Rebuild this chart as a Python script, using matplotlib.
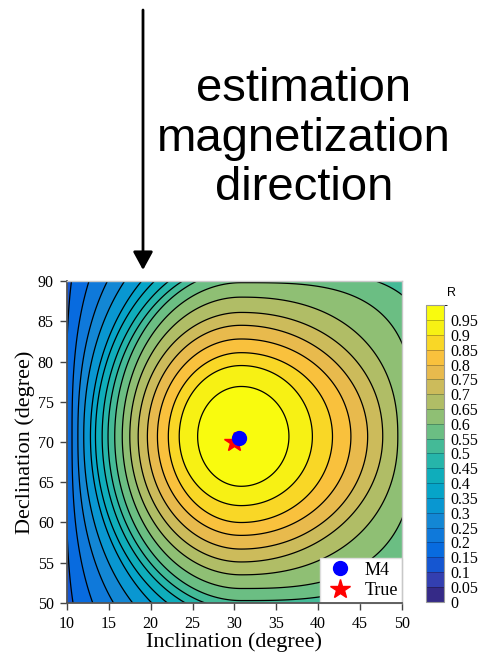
import numpy as np
import matplotlib
matplotlib.use('Agg')
import matplotlib.pyplot as plt
from matplotlib.colors import LinearSegmentedColormap, ListedColormap, BoundaryNorm
from matplotlib.cm import ScalarMappable
from matplotlib.patches import Polygon, FancyArrowPatch

# peak of the correlation map (inclination, declination)
peak = (30.8, 70.7)

# contour levels of R and where each one crosses the row / column through the peak
levels_in = [0.05, 0.10, 0.15, 0.20, 0.25, 0.30, 0.35, 0.40, 0.45, 0.50,
             0.55, 0.60, 0.65, 0.70, 0.75, 0.80, 0.85, 0.90, 0.95]
left_x = [8.5, 9.2, 9.9, 10.6, 11.3, 12.0, 12.8, 13.4, 14.2, 14.9,
          15.7, 16.6, 17.5, 18.5, 19.6, 20.8, 22.1, 23.4, 25.6]
right_x = [79.0, 76.5, 74.0, 71.5, 69.0, 66.5, 64.0, 61.5, 59.0, 56.5,
           54.0, 51.4, 49.5, 47.7, 45.9, 43.9, 41.7, 39.3, 36.5]
top_y = [113.7, 110.7, 107.7, 104.1, 100.5, 98.4, 96.4, 94.7, 93.3, 92.2,
         91.3, 89.8, 88.0, 86.1, 84.5, 82.8, 81.1, 79.5, 76.9]
bottom_y = [27.7, 30.7, 33.7, 37.3, 40.9, 43.0, 45.0, 46.7, 48.1, 49.2,
            50.3, 51.8, 53.5, 55.1, 56.7, 58.4, 60.0, 62.1, 64.5]

# squareness of each ring per quadrant (2 = plain ellipse)
sq_left = [4.0, 4.0, 3.5, 2.6, 2.3, 2.1, 2.0, 2.0, 2.0, 2.0,
           2.0, 2.0, 2.0, 2.0, 2.0, 2.0, 2.0, 2.0, 2.0]
sq_top_right = [4.0, 4.0, 4.0, 4.0, 4.0, 4.0, 4.0, 4.0, 4.0, 4.0,
                4.0, 3.2, 2.3, 2.1, 2.0, 2.0, 2.0, 2.0, 2.0]
sq_bot_right = [3.0, 3.0, 3.0, 3.0, 3.0, 3.0, 3.0, 3.0, 3.0, 3.0,
                3.0, 2.8, 2.2, 2.0, 2.0, 2.0, 2.0, 2.0, 2.0]

m4_dir = (30.5, 70.5)
true_dir = (30.0, 70.0)

levels = np.arange(0, 1.0001, 0.05)
cb_ticks = levels[:-1]
cb_labels = ['0', '0.05', '0.1', '0.15', '0.2', '0.25', '0.3', '0.35', '0.4', '0.45',
             '0.5', '0.55', '0.6', '0.65', '0.7', '0.75', '0.8', '0.85', '0.9', '0.95']

title_lines = ['estimation', 'magnetization', 'direction']

# parula (every 4th entry of the 64 colour table)
parula_pts = [
    (0.2081, 0.1663, 0.5292), (0.1959, 0.2645, 0.7279), (0.0117, 0.3875, 0.8820),
    (0.0498, 0.4586, 0.8641), (0.0793, 0.5200, 0.8312), (0.0343, 0.5966, 0.8199),
    (0.0228, 0.6535, 0.7768), (0.0843, 0.6928, 0.7062), (0.2178, 0.7250, 0.6193),
    (0.3953, 0.7459, 0.5244), (0.5709, 0.7485, 0.4494), (0.7184, 0.7411, 0.3905),
    (0.8507, 0.7299, 0.3360), (0.9739, 0.7314, 0.2666), (0.9789, 0.8271, 0.1633),
    (0.9661, 0.9514, 0.0755), (0.9763, 0.9831, 0.0538),
]
pos = np.r_[np.arange(0, 61, 4), 63] / 63.0
parula = LinearSegmentedColormap.from_list('parula', list(zip(pos, parula_pts)))
band_cmap = ListedColormap(parula(np.linspace(0, 1, 20)))
norm = BoundaryNorm(levels, band_cmap.N)


def ring(k, npts=120):
    # closed outline of the region R >= levels_in[k], one quarter per quadrant
    cx, cy = peak
    ar, al = right_x[k] - cx, cx - left_x[k]
    bt, bb = top_y[k] - cy, cy - bottom_y[k]
    t = np.linspace(0, np.pi / 2, npts)
    c, s = np.cos(t), np.sin(t)
    n1, n2, n4 = sq_top_right[k], sq_left[k], sq_bot_right[k]
    q1 = np.c_[cx + ar * c ** (2 / n1), cy + bt * s ** (2 / n1)]
    q2 = np.c_[cx - al * c ** (2 / n2), cy + bt * s ** (2 / n2)][::-1]
    q3 = np.c_[cx - al * c ** (2 / n2), cy - bb * s ** (2 / n2)]
    q4 = np.c_[cx + ar * c ** (2 / n4), cy - bb * s ** (2 / n4)][::-1]
    return np.vstack([q1, q2, q3, q4])


plt.rcParams['font.family'] = 'Liberation Serif'

fig = plt.figure(figsize=(4.82, 6.53), dpi=100)
ax = fig.add_axes([0.139, 0.0766, 0.695, 0.493])
ax.set_facecolor(band_cmap(0))

# filled contour bands, outermost first
for k, lev in enumerate(levels_in):
    band = int(round(lev / 0.05))
    ax.add_patch(Polygon(ring(k), closed=True, facecolor=band_cmap(band),
                         edgecolor='k', linewidth=0.9, zorder=1 + k * 0.01))

ax.plot([true_dir[0]], [true_dir[1]], '*', color='red', ms=15, mec='red', zorder=5)
ax.plot([m4_dir[0]], [m4_dir[1]], 'o', color='blue', ms=10, mec='blue', zorder=6)

h_m4 = plt.Line2D([], [], ls='none', marker='o', color='blue', ms=10)
h_true = plt.Line2D([], [], ls='none', marker='*', color='red', ms=15)
leg = ax.legend([h_m4, h_true], ['M4', 'True'], loc='lower right', borderaxespad=0,
                fontsize=13, fancybox=False, framealpha=1, edgecolor='#dddddd',
                borderpad=0.2, labelspacing=0.2, handlelength=1.8, handletextpad=0.5)
leg.set_zorder(10)

ax.set_xlim(10, 50)
ax.set_ylim(50, 90)
ax.set_xticks(range(10, 51, 5))
ax.set_yticks(range(50, 91, 5))
ax.tick_params(direction='out', length=5, width=1, labelsize=11.5, pad=4.5, color='#444444')
ax.set_xlabel('Inclination (degree)', fontsize=16, labelpad=0)
ax.set_ylabel('Declination (degree)', fontsize=16, labelpad=2)
for s in ['left', 'bottom']:
    ax.spines[s].set_color('#555555')
    ax.spines[s].set_linewidth(1.3)
for s in ['top', 'right']:
    ax.spines[s].set_color('#c8c8c8')
    ax.spines[s].set_linewidth(1)
for s in ax.spines.values():
    s.set_zorder(20)

# colour bar
cax = fig.add_axes([0.884, 0.0786, 0.038, 0.454])
cb = fig.colorbar(ScalarMappable(norm=norm, cmap=band_cmap), cax=cax, ticks=cb_ticks)
cb.ax.set_yticklabels(cb_labels)
cb.ax.tick_params(length=0, pad=4, labelsize=11.5)
cb.outline.set_edgecolor('#999999')
cb.outline.set_linewidth(0.8)
cb.ax.hlines(levels[1:-1], 0, 1, colors=[(0, 0, 0, 0.3)], linewidths=0.6)
fig.text(451 / 482, 1 - 293 / 653, 'R', ha='center', va='center', fontsize=9,
         family='Liberation Sans')

# arrow and caption above the map
arrow = FancyArrowPatch((143 / 482, 1 - 10 / 653), (143 / 482, 1 - 270 / 653),
                        transform=fig.transFigure,
                        arrowstyle='-|>,head_length=0.55,head_width=0.3',
                        mutation_scale=20, lw=2, color='k', shrinkA=0, shrinkB=0)
fig.add_artist(arrow)
for line, yb in zip(title_lines, [101, 151, 200]):
    fig.text(304 / 482, 1 - yb / 653, line, ha='center', va='baseline',
             fontsize=34, family='Liberation Sans')

fig.savefig('out.png', dpi=100)
